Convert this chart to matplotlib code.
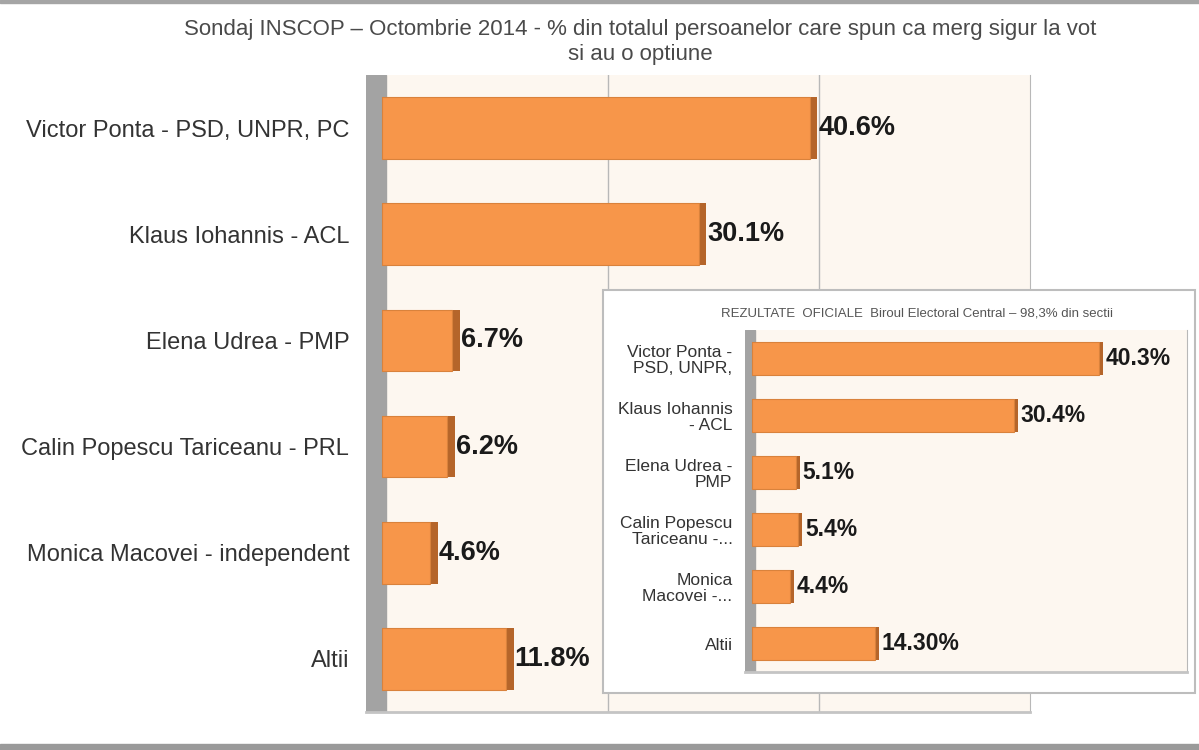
"""
plot.py
INSCOP poll (October 2014) with the official results as an inset
"""

import numpy as np
from matplotlib import pyplot as plt
from matplotlib.patches import Rectangle

plt.rcParams['font.family'] = ['Liberation Sans', 'DejaVu Sans']

# Data
CANDIDATES = ["Victor Ponta - PSD, UNPR, PC", "Klaus Iohannis - ACL",
              "Elena Udrea - PMP", "Calin Popescu Tariceanu - PRL",
              "Monica Macovei - independent", "Altii"]
POLL_VALUES = [40.6, 30.1, 6.7, 6.2, 4.6, 11.8]
POLL_LABELS = ["40.6%", "30.1%", "6.7%", "6.2%", "4.6%", "11.8%"]

INSET_CANDIDATES = ["Victor Ponta -\nPSD, UNPR,", "Klaus Iohannis\n- ACL",
                    "Elena Udrea -\nPMP", "Calin Popescu\nTariceanu -...",
                    "Monica\nMacovei -...", "Altii"]
OFFICIAL_VALUES = [40.3, 30.4, 5.1, 5.4, 4.4, 14.3]
OFFICIAL_LABELS = ["40.3%", "30.4%", "5.1%", "5.4%", "4.4%", "14.30%"]

TITLE = ("Sondaj INSCOP \u2013 Octombrie 2014 - % din totalul persoanelor care spun ca merg sigur la vot\n"
         "si au o optiune")
INSET_TITLE = "REZULTATE  OFICIALE  Biroul Electoral Central \u2013 98,3% din sectii"

# Colors
ORANGE = "#F7964A"
ORANGE_DARK = "#B5652A"
WALL = "#A3A3A3"
BACK = "#FDF7F0"
GRID = "#B8B8B8"
TEXT = "#333333"
TITLE_COLOR = "#4A4A4A"


def bars_3d(axis, values, labels, depth, label_size, label_gap):
    """ Draw orange bars with a darker side face and bold value labels """
    ypos = np.arange(len(values))
    vals = np.array(values)
    axis.barh(ypos, vals + depth, height=0.58, color=ORANGE_DARK, zorder=2)
    axis.barh(ypos, vals, height=0.58, color=ORANGE, edgecolor="#D9823C",
              linewidth=0.8, zorder=3)
    for y, v, lab in zip(ypos, vals, labels):
        axis.text(v + depth + label_gap, y, lab, va="center", ha="left",
                  fontsize=label_size, fontweight="bold", color="#1A1A1A", zorder=4)


def style_axis(axis, names, xmin, xmax, wall_right, label_size, pad):
    axis.set_facecolor(BACK)
    axis.set_xlim(xmin, xmax)
    axis.set_ylim(len(names) - 0.5, -0.5)
    axis.axvspan(xmin, wall_right, color=WALL, zorder=1)
    axis.set_yticks(np.arange(len(names)))
    axis.set_yticklabels(names, fontsize=label_size, color=TEXT, linespacing=1.1)
    axis.tick_params(axis="y", length=0, pad=pad)
    axis.set_xticks([])
    for side in ("top", "left"):
        axis.spines[side].set_visible(False)
    axis.spines["right"].set_color(GRID)
    axis.spines["bottom"].set_color("#C4C4C4")
    axis.spines["bottom"].set_linewidth(2)


fig = plt.figure(figsize=(11.99, 7.5), dpi=100)
W, H = 1199, 750

# Outer frame lines
fig.patches.append(Rectangle((0, 0.996), 1, 0.004, transform=fig.transFigure,
                             color="#A5A5A5", zorder=0))
fig.patches.append(Rectangle((0, 0), 1, 0.008, transform=fig.transFigure,
                             color="#9A9A9A", zorder=0))

fig.text(640 / W, 1 - 42 / H, TITLE, ha="center", va="center", fontsize=16,
         color=TITLE_COLOR, linespacing=1.25)

# Main chart
ax = fig.add_axes([366 / W, 1 - 712 / H, (1030 - 366) / W, (712 - 75) / H])
style_axis(ax, CANDIDATES, -1.5, 61.5, 0.4, 17, 12)
for g in (20, 40):
    ax.axvline(g + 1.5, color=GRID, linewidth=1, zorder=0.5)
bars_3d(ax, POLL_VALUES, POLL_LABELS, 0.7, 19.5, 0.1)

# Inset box
fig.patches.append(Rectangle((603 / W, 1 - 693 / H), (1195 - 603) / W, (693 - 290) / H,
                             transform=fig.transFigure, facecolor="white",
                             edgecolor="#BDBDBD", linewidth=1.5, zorder=5))
fig.text(917 / W, 1 - 313 / H, INSET_TITLE, ha="center", va="center",
         fontsize=9.5, color="#555555", zorder=6)

inset = fig.add_axes([745 / W, 1 - 672 / H, (1187 - 745) / W, (672 - 330) / H])
inset.set_zorder(6)
style_axis(inset, INSET_CANDIDATES, -0.8, 50.5, 0.35, 12.5, 9)
bars_3d(inset, OFFICIAL_VALUES, OFFICIAL_LABELS, 0.45, 16.5, 0.3)

fig.savefig("out.png", dpi=100)
